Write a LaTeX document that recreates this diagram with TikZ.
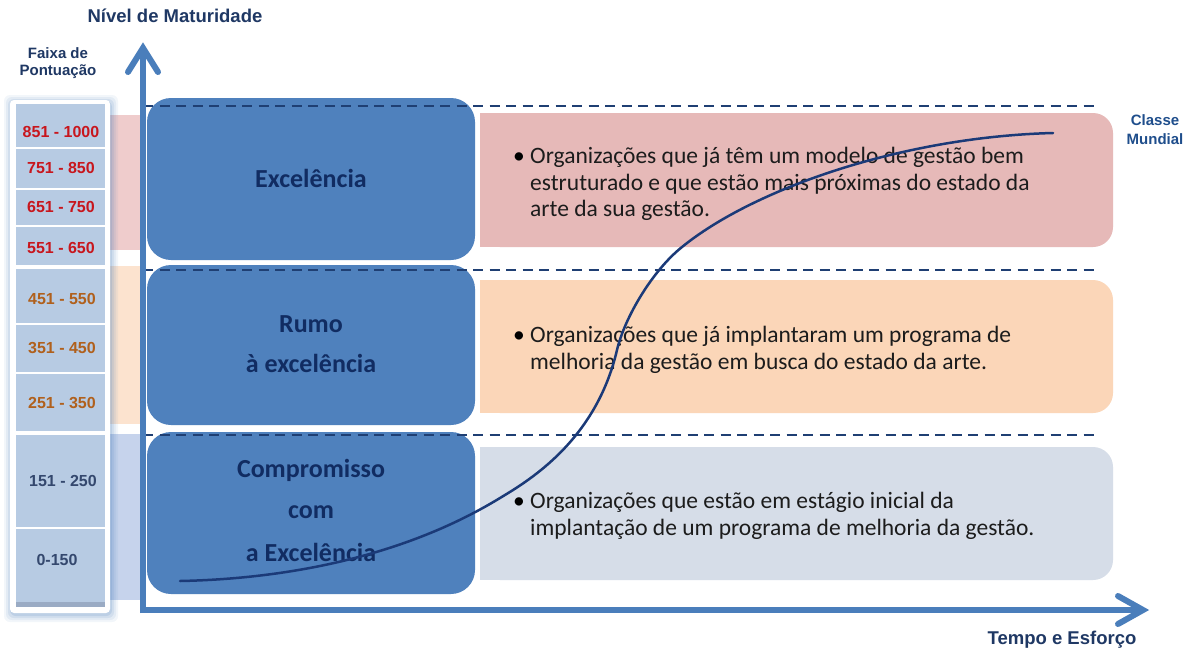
\documentclass[tikz,border=0pt]{standalone}
\usepackage{fontspec}
\setmainfont{Carlito}
\newfontfamily\lsans{Liberation Sans}
\usetikzlibrary{calc}
\definecolor{axisblue}{HTML}{4A7EBB}
\definecolor{boxblue}{HTML}{4F81BD}
\definecolor{ttlnavy}{HTML}{1F3864}
\definecolor{labnavy}{HTML}{112C62}
\definecolor{curvec}{HTML}{1B3A78}
\definecolor{pinkbox}{HTML}{E6B9B8}
\definecolor{peachbox}{HTML}{FBD6B8}
\definecolor{greybox}{HTML}{D6DDE8}
\definecolor{colfill}{HTML}{B7CBE3}
\definecolor{colbottom}{HTML}{9AABC4}
\definecolor{redtxt}{HTML}{C8161D}
\definecolor{browntxt}{HTML}{B0601C}
\definecolor{slatetxt}{HTML}{34486E}
\definecolor{dashc}{HTML}{1F3F73}
\definecolor{classec}{HTML}{1F4E8C}
\definecolor{pinkband}{HTML}{EFCCCC}
\definecolor{peachband}{HTML}{FCE3CF}
\definecolor{blueband}{HTML}{C6D3EC}
\definecolor{bodytxt}{HTML}{1C1C1C}
\begin{document}
\begin{tikzpicture}[x=1pt,y=-1pt,
  axisline/.style={axisblue, line width=6pt},
  chevron/.style={axisblue, line width=6pt, line cap=round, line join=miter},
  dashline/.style={dashc, line width=2pt, dash pattern=on 10pt off 6.5pt},
  sepline/.style={white, line width=2pt},
  score/.style={font=\lsans\bfseries\fontsize{16}{19}\selectfont, inner sep=0pt},
  ttl/.style={font=\lsans\bfseries\fontsize{18.5}{22}\selectfont, text=ttlnavy, inner sep=0pt},
  small/.style={font=\lsans\bfseries\fontsize{15}{18}\selectfont, text=ttlnavy, inner sep=0pt},
  lab/.style={font=\bfseries\fontsize{26}{30}\selectfont, text=labnavy, inner sep=0pt, anchor=base},
  body/.style={font=\fontsize{23.5}{26.5}\selectfont, text=bodytxt, inner sep=0pt, anchor=base west},
  bul/.style={font=\fontsize{23.5}{26.5}\selectfont, text=black, inner sep=0pt, anchor=base},
]
\useasboundingbox (0,0) rectangle (1186,653);
\fill[white] (0,0) rectangle (1186,653);

% background bands
\fill[pinkband] (100,115) rectangle (146,250);
\fill[peachband] (100,266) rectangle (146,424);
\fill[blueband] (100,434) rectangle (146,600);

% score column glow
\foreach \i/\o in {7/0.07,5/0.09,3/0.12,1/0.16}
  \fill[boxblue, opacity=\o, rounded corners=6pt] ({10-\i+1},{100-\i+2}) rectangle ({110+\i+1},{613+\i+2});
\fill[white, rounded corners=4pt] (10,100) rectangle (110,613);
\fill[colfill] (16,104) rectangle (105,607);
\fill[colbottom] (16,602) rectangle (105,607);
\foreach \yy in {148,189,226,324,373,528}
  \draw[sepline] (16,\yy) -- (105,\yy);
\draw[white, line width=3.5pt] (16,267) -- (105,267);
\draw[white, line width=3.5pt] (16,433) -- (105,433);

\node[score, text=redtxt] (s1) at (61,132) {851 - 1000};
\node[score, text=redtxt] (s2) at (61,168) {751 - 850};
\node[score, text=redtxt] (s3) at (61,207) {651 - 750};
\node[score, text=redtxt] (s4) at (61,248) {551 - 650};
\node[score, text=browntxt] (s5) at (62,299) {451 - 550};
\node[score, text=browntxt] (s6) at (62,348) {351 - 450};
\node[score, text=browntxt] (s7) at (62,403) {251 - 350};
\node[score, text=slatetxt] (s8) at (63,481) {151 - 250};
\node[score, text=slatetxt] (s9) at (57,560) {0-150};

% right boxes (square left side, rounded right side)
\fill[pinkbox, rounded corners=20pt] (480,113) rectangle (1113,247);
\fill[pinkbox] (480,113) rectangle (800,247);
\fill[peachbox, rounded corners=20pt] (480,280) rectangle (1113,413);
\fill[peachbox] (480,280) rectangle (800,413);
\fill[greybox, rounded corners=20pt] (480,447) rectangle (1113,580);
\fill[greybox] (480,447) rectangle (800,580);

% left boxes
\fill[boxblue, rounded corners=24pt] (147,98) rectangle (475,260);
\fill[boxblue, rounded corners=24pt] (147,265) rectangle (475,425);
\fill[boxblue, rounded corners=24pt] (147,432) rectangle (475,594);

% dashed level lines
\draw[dashline] (143,106) -- (1100,106);
\draw[dashline] (143,270) -- (1100,270);
\draw[dashline] (143,435) -- (1100,435);

% axes
\coordinate (O) at (143,610);
\coordinate (ytip) at (143,48);
\coordinate (xtip) at (1143,610);
\draw[axisline] (143,613) -- (ytip);
\draw[axisline] (140,610) -- (xtip);
\draw[chevron] ($(ytip)+(-15,24)$) -- (ytip) -- ($(ytip)+(15,24)$);
\draw[chevron] ($(xtip)+(-25,-14)$) -- (xtip) -- ($(xtip)+(-25,14)$);

% titles
\node[ttl] (ylab) at (175,16) {Nível de Maturidade};
\node[ttl] (xlab) at (1062,640) {Tempo e Esforço};
\node[small] (f1) at (58,53) {Faixa de};
\node[small] (f2) at (58,72) {Pontuação};
\node[small, text=classec] (c1) at (1155,120) {Classe};
\node[small, text=classec] (c2) at (1155,139) {Mundial};

% left labels
\node[lab] (l1) at (311,187) {Excelência};
\node[lab] (l2a) at (311,332) {Rumo};
\node[lab] (l2b) at (311,372) {à excelência};
\node[lab] (l3a) at (311,477) {Compromisso};
\node[lab] (l3b) at (311,518) {com};
\node[lab] (l3c) at (311,561) {a Excelência};

% right texts
\node[bul] (b1) at (519,163) {•};
\node[body] (t1a) at (530,163) {Organizações que já têm um modelo de gestão bem};
\node[body] (t1b) at (530,190) {estruturado e que estão mais próximas do estado da};
\node[body] (t1c) at (530,216) {arte da sua gestão.};
\node[bul] (b2) at (519,342) {•};
\node[body] (t2a) at (530,342) {Organizações que já implantaram um programa de};
\node[body] (t2b) at (530,369) {melhoria da gestão em busca do estado da arte.};
\node[bul] (b3) at (519,508) {•};
\node[body] (t3a) at (530,508) {Organizações que estão em estágio inicial da};
\node[body] (t3b) at (530,535) {implantação de um programa de melhoria da gestão.};

% maturity curve
\draw[curvec, line width=2.5pt, line cap=round]
  (180,581) .. controls (280,579) and (400,559) .. (500,498)
            .. controls (530,480) and (596,440) .. (617,350)
            .. controls (624.5,318) and (652,271) .. (682,247)
            .. controls (752,190) and (900,137) .. (1053,133);
\end{tikzpicture}
\end{document}
